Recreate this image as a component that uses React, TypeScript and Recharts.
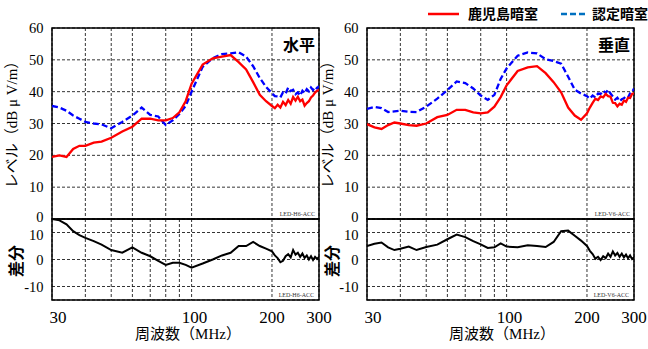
import React from 'react';
import { LineChart, Line, XAxis, YAxis, CartesianGrid, ReferenceArea } from 'recharts';

// 周波数 (MHz)
const freqs = [
  30, 32, 34, 36, 38, 40, 43, 46, 50, 55, 60, 65, 70, 75, 80, 85, 90, 95, 100,
  110, 120, 130, 140, 150, 160, 170, 180, 190,
  200, 205, 210, 215, 220, 225, 230, 235, 240, 245, 250, 255, 260, 265, 270, 275, 280, 285, 290, 295, 300,
];

// 水平 (H)
const hKagoshima = [
  19.5, 20, 19.5, 22, 23, 23, 24, 24.3, 25.5, 27.5, 29, 31.5, 31.5, 31, 31, 31.7, 33.5, 37, 42.5,
  48.5, 50.5, 51, 51.5, 49.3, 47, 43, 39, 37,
  35.5, 34.8, 35.9, 35, 36.8, 35.8, 37.4, 36.2, 38.3, 37.2, 38.4, 37, 37.5, 35.6, 36.4, 37, 38.2, 38.8, 39.7, 40.3, 40.5,
];
const hNintei = [
  35.5, 35, 34, 32.5, 31.5, 30.5, 30, 29.7, 28.5, 30.5, 32.5, 35, 32.7, 32.2, 29.5, 31, 33, 35.5, 40,
  47.8, 50.5, 51.8, 52, 52.4, 51, 48, 44.3, 41.5,
  39.5, 38.6, 38.5, 38.2, 39.8, 39.4, 41.3, 40.2, 40.6, 39.2, 39.8, 38.8, 40.3, 39.5, 40.8, 40.1, 41.3, 40.5, 41.5, 41, 41.8,
];
const hDiff = [
  15, 14.5, 13, 10.5, 9, 8, 6.8, 5.5, 3.5, 2.5, 4.5, 2.5, 1.2, -0.5, -2, -1.2, -1.2, -2, -3,
  -1.5, 0, 1.5, 2.5, 5, 5, 6.5, 5, 4,
  3, 1.5, 0.5, -1, -0.5, 1.2, 2, 0.8, 3.5, 1.8, 2.5, 1, 2.2, 0.6, 1.5, 0, 1.2, -0.2, 1, 0.2, 1,
];

// 垂直 (V)
const vKagoshima = [
  29.8, 28.8, 28.3, 29.5, 30.3, 30, 29.5, 29.3, 30, 32, 32.7, 34.3, 34.3, 33.5, 33.2, 33.5, 35.3, 38.3, 42,
  46.5, 47.6, 48, 45.8, 43, 39.8, 35, 32.5, 31.2,
  33.2, 35, 36.5, 37.8, 37.4, 38.5, 38.2, 39.3, 38.6, 38.4, 36.5, 36.4, 35.4, 36.2, 35.9, 37.2, 36.8, 38.1, 38, 39.3, 39.5,
];
const vNintei = [
  34.6, 35.2, 34.8, 33.6, 33.8, 34, 33.7, 33.6, 35.3, 37.8, 40.5, 43.2, 42.7, 41, 38.8, 37.4, 39, 44, 47.3,
  51.3, 52.3, 52, 50.2, 49.6, 48.8, 44.7, 40.6, 39.4,
  38.6, 37.8, 38.8, 38.2, 39.4, 39.3, 40.3, 39.6, 40.6, 39.4, 38.5, 37.5, 38.1, 37, 37.6, 37.9, 38.6, 38.2, 39.5, 39.8, 41,
];
const vDiff = [
  5, 5.8, 6.3, 4.5, 3.5, 4, 4.8, 3.5, 4.6, 5.5, 7.5, 9.2, 8.3, 6.8, 5.6, 4.3, 4.5, 6, 4.8,
  4.5, 5.3, 5, 4.6, 6.5, 10.5, 10.7, 8.8, 7,
  5, 3.2, 2, 0.3, 1, -0.2, 1.2, 0.5, 2.2, 1, 3, 1.5, 2.4, 1, 2.2, 0.8, 1.8, 0.5, 1.5, 0.2, 0.8,
];

const seriesNames = ['鹿児島暗室', '認定暗室'];
const xTicks = [30, 40, 50, 60, 70, 80, 90, 100, 200, 300];
const xLabels = [30, 100, 200, 300];
const levelTicks = [0, 10, 20, 30, 40, 50, 60];
const diffTicks = [-10, 0, 10];

const W = 648;
const H = 349;
const SERIF = "'Liberation Serif', 'Times New Roman', serif";
const GOTHIC = "'Noto Sans CJK JP', 'Noto Sans', sans-serif";
const MIXED = "'Liberation Serif', 'Noto Sans CJK JP', serif";

const XTick = (props: any) => {
  const { x, y, payload } = props;
  if (!xLabels.includes(payload.value)) return <g />;
  const dx = payload.value === 30 ? 6 : payload.value === 100 ? 3 : 0;
  return (
    <text x={x + dx} y={y + 23} textAnchor="middle" fontSize={17} fontFamily={SERIF} fill="#000">
      {payload.value}
    </text>
  );
};

// y tick labels; the 0 of the upper plot and the 10 of the lower plot sit close together
const makeYTick = (nudge: number, edge: number) => (props: any) => {
  const { x, y, payload } = props;
  const dy = payload.value === edge ? nudge : 0;
  return (
    <text x={x} y={y + dy + 5} textAnchor="end" fontSize={14.5} fontFamily={SERIF} fill="#000">
      {payload.value}
    </text>
  );
};
const UpperTick = makeYTick(-2.5, 0);
const LowerTick = makeYTick(2, 10);

function Panel({ left, right, a, b, d }: { left: number; right: number; a: number[]; b: number[]; d: number[] }) {
  const upper = freqs.map((f, i) => ({ f, a: a[i], b: b[i] }));
  const lower = freqs.map((f, i) => ({ f, d: d[i] }));
  return (
    <>
      <LineChart
        width={W}
        height={H}
        data={upper}
        margin={{ top: 28, right: W - right, bottom: H - 219, left: 0 }}
        style={{ position: 'absolute', left: 0, top: 0 }}
      >
        <CartesianGrid stroke="#000" strokeWidth={0.8} strokeDasharray="3 2" />
        <XAxis type="number" dataKey="f" scale="log" domain={[30, 300]} ticks={xTicks} hide allowDataOverflow />
        <YAxis
          type="number"
          domain={[0, 60]}
          ticks={levelTicks}
          width={left}
          axisLine={false}
          tickLine={false}
          tickSize={0}
          tickMargin={8.5}
          tick={<UpperTick />}
          interval={0}
        />
        <ReferenceArea x1={30} x2={300} y1={0} y2={60} fill="none" stroke="#000" strokeWidth={1.5} />
        <Line dataKey="b" name={seriesNames[1]} stroke="#0000FF" strokeWidth={2.3} strokeDasharray="6 3" dot={false} isAnimationActive={false} />
        <Line dataKey="a" name={seriesNames[0]} stroke="#FF0000" strokeWidth={2.3} dot={false} isAnimationActive={false} />
      </LineChart>
      <LineChart
        width={W}
        height={H}
        data={lower}
        margin={{ top: 219, right: W - right, bottom: 0, left: 0 }}
        style={{ position: 'absolute', left: 0, top: 0 }}
      >
        <CartesianGrid stroke="#000" strokeWidth={0.8} strokeDasharray="3 2" />
        <XAxis
          type="number"
          dataKey="f"
          scale="log"
          domain={[30, 300]}
          ticks={xTicks}
          interval={0}
          height={49}
          axisLine={false}
          tickLine={false}
          tickSize={0}
          tickMargin={0}
          tick={<XTick />}
          allowDataOverflow
        />
        <YAxis
          type="number"
          domain={[-15, 15]}
          ticks={diffTicks}
          width={left}
          axisLine={false}
          tickLine={false}
          tickSize={0}
          tickMargin={8.5}
          tick={<LowerTick />}
          interval={0}
          allowDataOverflow
        />
        <ReferenceArea x1={30} x2={300} y1={-15} y2={15} fill="none" stroke="#000" strokeWidth={1.5} />
        <Line dataKey="d" stroke="#000" strokeWidth={2} dot={false} isAnimationActive={false} />
      </LineChart>
    </>
  );
}

export default function App() {
  return (
    <div style={{ position: 'absolute', left: 0, top: 0, width: W, height: H, background: '#fff', overflow: 'hidden' }}>
      <Panel left={52} right={319} a={hKagoshima} b={hNintei} d={hDiff} />
      <Panel left={367} right={634} a={vKagoshima} b={vNintei} d={vDiff} />
      <svg width={W} height={H} style={{ position: 'absolute', left: 0, top: 0, pointerEvents: 'none' }}>
        {/* legend */}
        <line x1={428} y1={14} x2={459} y2={14} stroke="#FF0000" strokeWidth={2.5} />
        <text x={468} y={19} fontSize={14} fontWeight="bold" fontFamily={GOTHIC}>{seriesNames[0]}</text>
        <line x1={561} y1={14} x2={587} y2={14} stroke="#0070C0" strokeWidth={2.5} strokeDasharray="6 3" />
        <text x={592} y={19} fontSize={14} fontWeight="bold" fontFamily={GOTHIC}>{seriesNames[1]}</text>

        {/* panel titles */}
        <text x={315} y={51} textAnchor="end" fontSize={16} fontWeight="bold" fontFamily={GOTHIC}>水平</text>
        <text x={630} y={51} textAnchor="end" fontSize={16} fontWeight="bold" fontFamily={GOTHIC}>垂直</text>

        {/* small codes */}
        <text x={315} y={215.5} textAnchor="end" fontSize={6} fontFamily={SERIF} fill="#333">LED-H6-ACC</text>
        <text x={314} y={297} textAnchor="end" fontSize={6} fontFamily={SERIF} fill="#333">LED-H6-ACC</text>
        <text x={630} y={215.5} textAnchor="end" fontSize={6} fontFamily={SERIF} fill="#333">LED-V6-ACC</text>
        <text x={629} y={297} textAnchor="end" fontSize={6} fontFamily={SERIF} fill="#333">LED-V6-ACC</text>

        {/* axis titles */}
        <text transform="translate(17,121) rotate(-90)" textAnchor="middle" fontSize={15} fontFamily={MIXED}>レベル（dB μ V/m）</text>
        <text transform="translate(333,121) rotate(-90)" textAnchor="middle" fontSize={15} fontFamily={MIXED}>レベル（dB μ V/m）</text>
        <text transform="translate(22,261) rotate(-90)" textAnchor="middle" fontSize={16} fontWeight="bold" fontFamily={GOTHIC}>差分</text>
        <text transform="translate(338,261) rotate(-90)" textAnchor="middle" fontSize={16} fontWeight="bold" fontFamily={GOTHIC}>差分</text>
        <text x={188} y={339} textAnchor="middle" fontSize={15} fontFamily={MIXED}>周波数（MHz）</text>
        <text x={502} y={339} textAnchor="middle" fontSize={15} fontFamily={MIXED}>周波数（MHz）</text>
      </svg>
    </div>
  );
}
